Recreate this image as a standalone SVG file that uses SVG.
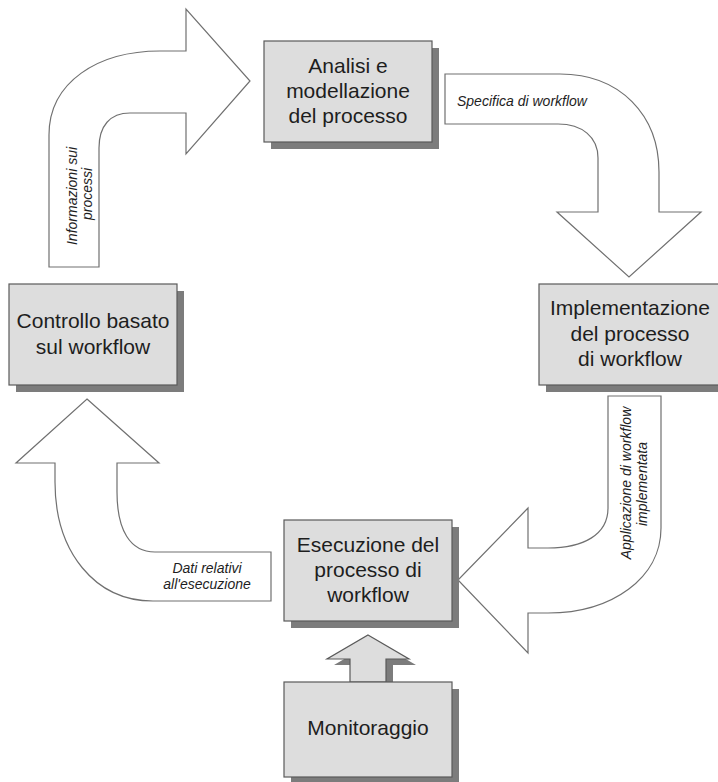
<svg xmlns="http://www.w3.org/2000/svg" width="718" height="782" viewBox="0 0 718 782">
  <style>
    .box { fill: #dddddd; stroke: #5a5a5a; stroke-width: 1.2; }
    .shadow { fill: #7c7c7c; }
    .flow { fill: #ffffff; stroke: #707070; stroke-width: 1.2; stroke-linejoin: miter; }
    .label { font-family: "Liberation Sans", Arial, sans-serif; font-size: 21px; fill: #1e1e1e; text-anchor: middle; }
    .note { font-family: "Liberation Sans", Arial, sans-serif; font-size: 14px; font-style: italic; fill: #1e1e1e; }
  </style>
  <rect x="0" y="0" width="718" height="782" fill="#ffffff"/>

  <!-- connectors: broad block arrows between the phases -->
  <g id="connectors">
    <!-- Controllo -> Analisi -->
    <g id="arrow-informazioni">
      <path class="flow" d="M 49 267 L 49 135 C 49 82, 98 51, 160 51 L 186 51 L 186 9 L 250 81 L 186 154 L 186 113 L 130 113 C 110 113, 99 126, 99 148 L 99 267 Z"/>
      <text class="note" text-anchor="middle" transform="translate(77,196) rotate(-90)">Informazioni  sui</text>
      <text class="note" text-anchor="middle" transform="translate(92,194) rotate(-90)">processi</text>
    </g>
    <!-- Analisi -> Implementazione -->
    <g id="arrow-specifica">
      <path class="flow" d="M 445 74 L 560 74 C 620 74, 659 115, 659 172 L 659 212 L 701 212 L 629 277 L 557 212 L 598 212 L 598 158 C 598 137, 582 124, 558 124 L 445 124 Z"/>
      <text class="note" x="457" y="106">Specifica di workflow</text>
    </g>
    <!-- Implementazione -> Esecuzione -->
    <g id="arrow-applicazione">
      <path class="flow" d="M 608 396 L 661 396 L 661 528 C 661 578, 612 613, 548 613 L 528 613 L 528 653 L 458 580 L 528 508 L 528 548 L 548 548 C 583 548, 608 535, 608 508 Z"/>
      <text class="note" text-anchor="middle" transform="translate(631,483) rotate(-90)">Applicazione di workflow</text>
      <text class="note" text-anchor="middle" transform="translate(647,484) rotate(-90)">implementata</text>
    </g>
    <!-- Esecuzione -> Controllo -->
    <g id="arrow-dati">
      <path class="flow" d="M 87 399 L 159 463 L 117 463 L 117 492 C 117 530, 130 552, 155 552 L 271 552 L 271 601 L 153 601 C 95 601, 55 552, 55 482 L 55 463 L 16 463 Z"/>
      <text class="note" text-anchor="middle" x="207" y="573">Dati relativi</text>
      <text class="note" text-anchor="middle" x="207" y="589">all'esecuzione</text>
    </g>
    <!-- Monitoraggio -> Esecuzione -->
    <g id="arrow-monitoraggio">
      <path class="shadow" transform="translate(7,6)" d="M 368 635 L 409 659 L 386 659 L 386 682 L 350 682 L 350 659 L 327 659 Z"/>
      <path class="box" d="M 368 635 L 409 659 L 386 659 L 386 682 L 350 682 L 350 659 L 327 659 Z"/>
    </g>
  </g>

  <g id="analisi">
    <rect class="shadow" x="271" y="48" width="168" height="101"/>
    <rect class="box" x="264" y="41" width="168" height="101"/>
    <text class="label" x="348" y="73">Analisi e</text>
    <text class="label" x="348" y="98">modellazione</text>
    <text class="label" x="348" y="123">del processo</text>
  </g>

  <g id="implementazione">
    <rect class="shadow" x="546" y="291" width="182" height="101"/>
    <rect class="box" x="539" y="284" width="182" height="101"/>
    <text class="label" x="630" y="315">Implementazione</text>
    <text class="label" x="630" y="341">del processo</text>
    <text class="label" x="630" y="366">di workflow</text>
  </g>

  <g id="esecuzione">
    <rect class="shadow" x="291" y="527" width="168" height="101"/>
    <rect class="box" x="284" y="520" width="168" height="101"/>
    <text class="label" x="368" y="552">Esecuzione del</text>
    <text class="label" x="368" y="577">processo di</text>
    <text class="label" x="368" y="602">workflow</text>
  </g>

  <g id="controllo">
    <rect class="shadow" x="16" y="291" width="168" height="101"/>
    <rect class="box" x="9" y="284" width="168" height="101"/>
    <text class="label" x="93" y="328">Controllo basato</text>
    <text class="label" x="93" y="354">sul workflow</text>
  </g>

  <g id="monitoraggio">
    <rect class="shadow" x="291" y="689" width="168" height="95"/>
    <rect class="box" x="284" y="682" width="168" height="95"/>
    <text class="label" x="368" y="735">Monitoraggio</text>
  </g>
</svg>
